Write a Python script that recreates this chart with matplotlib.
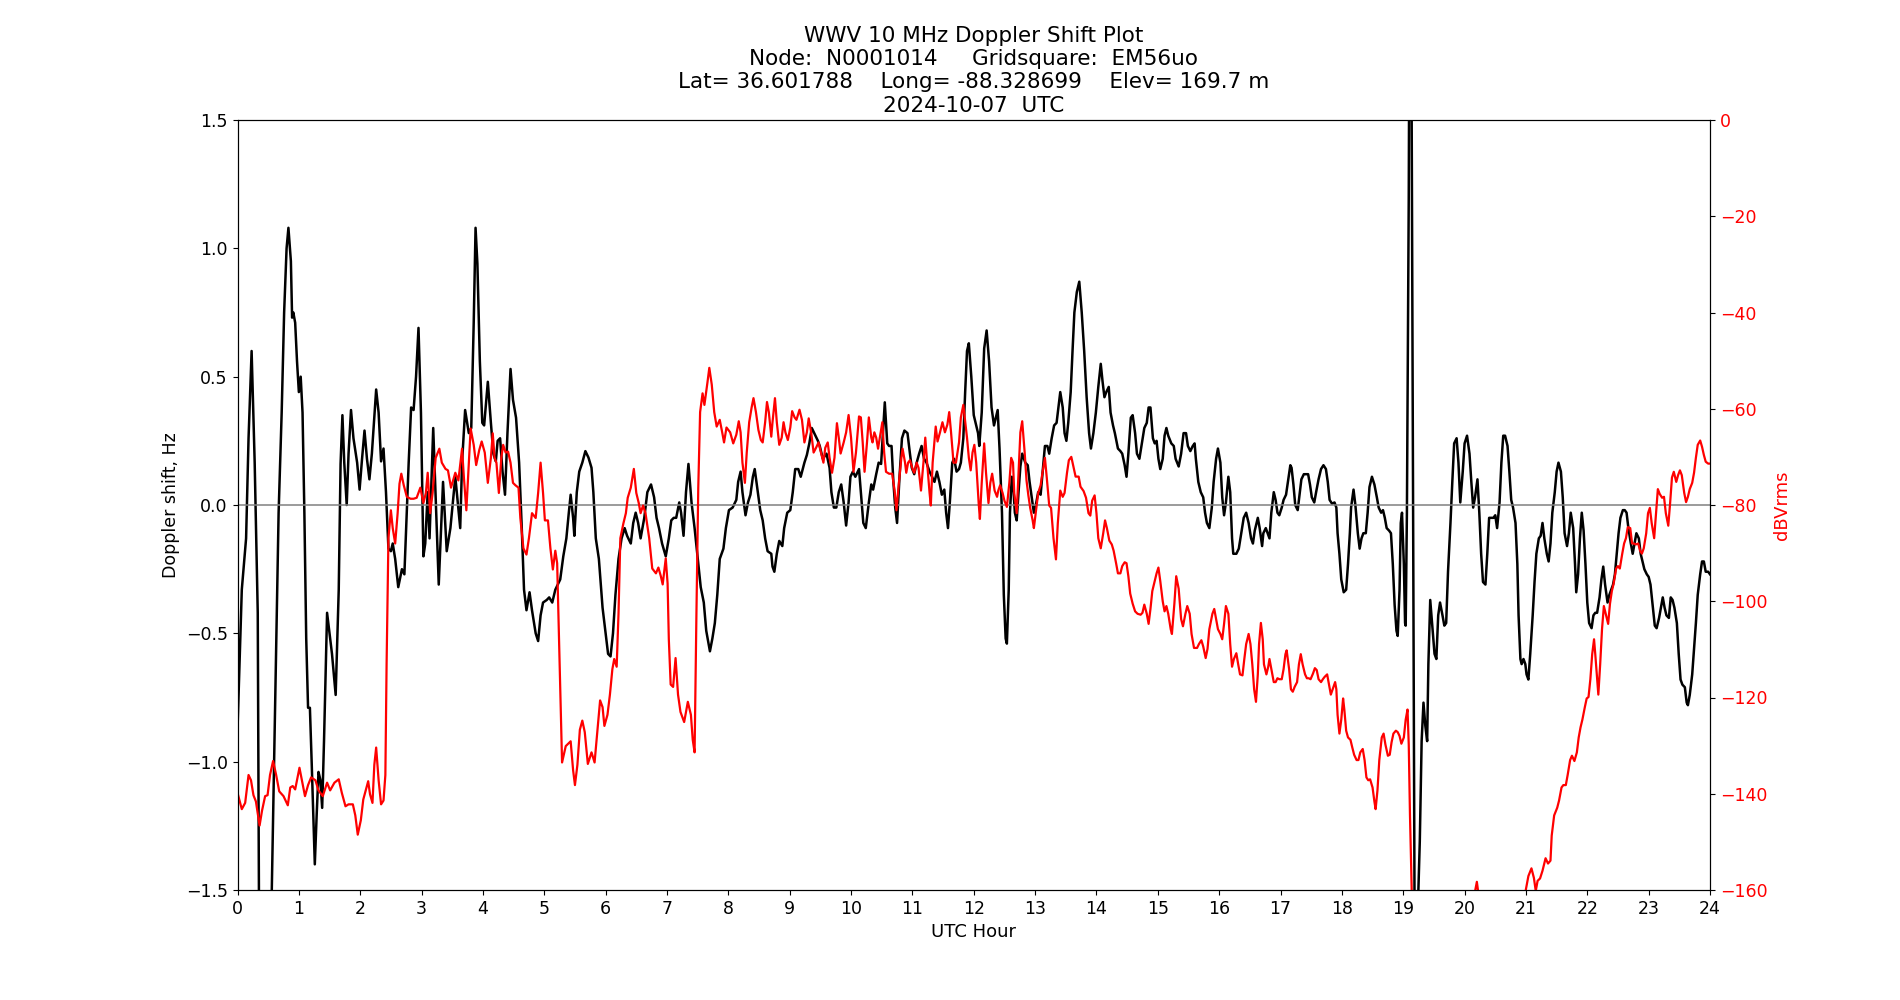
import numpy as np
import matplotlib
matplotlib.use('Agg')
import matplotlib.pyplot as plt

# Doppler shift (black), hours UTC / Hz
hours_doppler = [
    0.00, 0.07, 0.14, 0.18, 0.23, 0.28, 0.33, 0.35, 0.45, 0.555, 0.61, 0.67, 0.72, 0.76, 0.80, 0.83,
    0.87, 0.89, 0.91, 0.94, 0.97, 1.00, 1.03, 1.06, 1.09, 1.12, 1.15, 1.18, 1.21, 1.26, 1.29, 1.32,
    1.35, 1.38, 1.41, 1.46, 1.48, 1.54, 1.60, 1.65, 1.68, 1.71, 1.74, 1.78, 1.81, 1.85, 1.89, 1.95,
    1.99, 2.03, 2.07, 2.11, 2.15, 2.19, 2.26, 2.30, 2.34, 2.38, 2.42, 2.46, 2.50, 2.53, 2.57, 2.62,
    2.68, 2.72, 2.79, 2.83, 2.87, 2.91, 2.95, 2.99, 3.03, 3.06, 3.10, 3.13, 3.19, 3.28, 3.35, 3.41,
    3.47, 3.55, 3.63, 3.66, 3.71, 3.77, 3.81, 3.85, 3.88,
    3.91, 3.95, 3.99, 4.02, 4.08, 4.13, 4.17, 4.21, 4.24, 4.28, 4.32, 4.36, 4.40, 4.45, 4.49, 4.54,
    4.59, 4.63, 4.67, 4.71, 4.76, 4.80, 4.86, 4.90, 4.94, 4.98, 5.04, 5.08, 5.13, 5.18, 5.26, 5.31,
    5.36, 5.40, 5.43, 5.47, 5.49, 5.53, 5.57, 5.62, 5.67, 5.72, 5.77, 5.80, 5.84, 5.89, 5.95, 6.00,
    6.04, 6.08, 6.12, 6.16, 6.21, 6.26, 6.31, 6.35, 6.41, 6.45, 6.49, 6.53, 6.57, 6.63, 6.68, 6.74,
    6.79, 6.83, 6.87, 6.92, 6.98, 7.03, 7.07, 7.11, 7.15, 7.20, 7.23, 7.27, 7.31, 7.35, 7.40, 7.45,
    7.51, 7.55, 7.60, 7.64, 7.70, 7.74, 7.78, 7.82, 7.86, 7.92, 7.96, 8.01,
    8.07, 8.13, 8.16, 8.20, 8.23, 8.28, 8.32, 8.36, 8.40, 8.43, 8.48, 8.52, 8.56, 8.60, 8.64, 8.70,
    8.72, 8.75, 8.79, 8.83, 8.88, 8.91, 8.96, 9.01, 9.05, 9.09, 9.14, 9.18, 9.24, 9.28, 9.32, 9.36,
    9.40, 9.46, 9.49, 9.54, 9.57, 9.60, 9.65, 9.68, 9.72, 9.76, 9.80, 9.84, 9.88, 9.92, 9.96, 9.99,
    10.03, 10.07, 10.13, 10.16, 10.20, 10.24, 10.29, 10.33, 10.36, 10.41, 10.45, 10.49, 10.52, 10.55,
    10.59, 10.62, 10.66, 10.69, 10.72, 10.75, 10.79, 10.83, 10.87, 10.92, 10.96, 10.99, 11.03, 11.07,
    11.11, 11.15, 11.19, 11.23, 11.28, 11.32, 11.36, 11.40, 11.44, 11.48, 11.52, 11.55, 11.58, 11.61,
    11.65, 11.68, 11.72, 11.76, 11.79, 11.83, 11.86, 11.89, 11.92, 11.96, 12.00,
    12.03, 12.07, 12.09, 12.13, 12.17, 12.21, 12.25, 12.29, 12.33, 12.36, 12.39, 12.42, 12.46, 12.49,
    12.52, 12.54, 12.57, 12.59, 12.62, 12.65, 12.67, 12.70, 12.73, 12.76, 12.79, 12.84, 12.88, 12.91,
    12.95, 12.98, 13.02, 13.05, 13.09, 13.12, 13.16, 13.20, 13.23, 13.27, 13.31, 13.35, 13.38, 13.41,
    13.45, 13.48, 13.51, 13.54, 13.58, 13.61, 13.64, 13.68, 13.72, 13.76, 13.80, 13.84, 13.88, 13.91,
    13.95, 13.99, 14.03, 14.07, 14.10, 14.13, 14.16, 14.20, 14.23, 14.27, 14.30, 14.35, 14.39, 14.42,
    14.46, 14.49, 14.52, 14.56, 14.59, 14.63, 14.66, 14.70, 14.74, 14.78, 14.82, 14.85, 14.88, 14.92,
    14.95, 14.98, 15.01, 15.04, 15.08, 15.11, 15.14, 15.17, 15.22, 15.26, 15.29, 15.34, 15.38, 15.42,
    15.46, 15.49, 15.53, 15.57, 15.60, 15.62, 15.66, 15.70, 15.74, 15.77, 15.80, 15.84, 15.88, 15.91,
    15.95, 15.98, 16.02,
    16.05, 16.08, 16.11, 16.15, 16.18, 16.21, 16.23, 16.28, 16.32, 16.36, 16.40, 16.44, 16.48, 16.52,
    16.55, 16.58, 16.63, 16.66, 16.70, 16.72, 16.76, 16.79, 16.82, 16.85, 16.89, 16.92, 16.95, 16.98,
    17.02, 17.05, 17.09, 17.12, 17.16, 17.18, 17.21, 17.24, 17.28, 17.31, 17.34, 17.38, 17.42, 17.45,
    17.48, 17.51, 17.55, 17.58, 17.62, 17.66, 17.70, 17.74, 17.77, 17.80, 17.84, 17.88, 17.91, 17.93,
    17.96, 17.99, 18.03, 18.07, 18.10, 18.13, 18.15, 18.19, 18.22, 18.26, 18.29, 18.32, 18.35, 18.39,
    18.42, 18.45, 18.49, 18.53, 18.57, 18.60, 18.64, 18.67, 18.70, 18.73, 18.77, 18.80, 18.83, 18.86,
    18.89, 18.91, 18.94, 18.96, 18.98, 19.01, 19.03, 19.04, 19.06, 19.09, 19.115, 19.20, 19.235,
    19.27, 19.30, 19.33, 19.36, 19.39, 19.41, 19.44, 19.47, 19.51, 19.54, 19.57, 19.60, 19.64, 19.67,
    19.70, 19.73, 19.77, 19.80, 19.83, 19.87, 19.90, 19.93,
    19.97, 20.00, 20.04, 20.08, 20.11, 20.14, 20.17, 20.21, 20.24, 20.27, 20.30, 20.34, 20.37, 20.40,
    20.43, 20.47, 20.50, 20.53, 20.57, 20.60, 20.63, 20.66, 20.70, 20.73, 20.76, 20.79, 20.83, 20.86,
    20.88, 20.91, 20.93, 20.96, 20.99, 21.01, 21.04, 21.07, 21.11, 21.14, 21.17, 21.21, 21.24, 21.27,
    21.30, 21.34, 21.37, 21.40, 21.43, 21.47, 21.50, 21.53, 21.57, 21.60, 21.63, 21.67, 21.70, 21.73,
    21.77, 21.80, 21.82, 21.85, 21.88, 21.91, 21.94, 21.97, 22.00, 22.03, 22.07, 22.10, 22.13, 22.16,
    22.20, 22.23, 22.26, 22.29, 22.33, 22.36, 22.39, 22.42, 22.45, 22.48, 22.51, 22.54, 22.58, 22.61,
    22.64, 22.67, 22.71, 22.74, 22.77, 22.80, 22.84, 22.87, 22.90, 22.93, 22.97, 23.00, 23.03, 23.07,
    23.10, 23.13, 23.17, 23.20, 23.23, 23.26, 23.29, 23.33, 23.36, 23.39, 23.42, 23.46, 23.49, 23.52,
    23.55, 23.59, 23.62, 23.64, 23.67, 23.71, 23.74, 23.77, 23.80, 23.84, 23.87, 23.90, 23.93, 23.97,
    24.00,
]
doppler_hz = [
    -0.876, -0.33, -0.13, 0.26, 0.60, 0.165, -0.42, -1.55, -2.6, -1.55, -0.82, -0.03, 0.36, 0.75, 1.0, 1.08,
    0.95, 0.73, 0.75, 0.71, 0.56, 0.44, 0.50, 0.36, -0.03, -0.52, -0.79, -0.79, -1.01, -1.40, -1.21, -1.04,
    -1.07, -1.18, -0.92, -0.42, -0.46, -0.58, -0.74, -0.33, 0.16, 0.35, 0.165, 0.0, 0.20, 0.37, 0.26, 0.165,
    0.06, 0.18, 0.29, 0.18, 0.10, 0.20, 0.45, 0.36, 0.17, 0.22, 0.05, -0.17, -0.18, -0.15, -0.21, -0.32,
    -0.25, -0.27, 0.165, 0.38, 0.37, 0.50, 0.69, 0.36, -0.20, -0.15, 0.05, -0.13, 0.30, -0.31, 0.09, -0.18,
    -0.09, 0.11, -0.09, 0.165, 0.37, 0.28, 0.30, 0.71, 1.08,
    0.94, 0.56, 0.32, 0.31, 0.48, 0.32, 0.20, 0.17, 0.25, 0.26, 0.13, 0.04, 0.28, 0.53, 0.41, 0.34,
    0.165, -0.07, -0.33, -0.41, -0.34, -0.41, -0.50, -0.53, -0.43, -0.38, -0.37, -0.36, -0.38, -0.33, -0.29, -0.20,
    -0.13, -0.03, 0.04, -0.05, -0.12, 0.05, 0.13, 0.165, 0.21, 0.185, 0.145, 0.05, -0.13, -0.21, -0.40, -0.50,
    -0.58, -0.59, -0.50, -0.35, -0.21, -0.13, -0.09, -0.12, -0.15, -0.07, -0.03, -0.07, -0.13, -0.05, 0.05, 0.08,
    0.03, -0.05, -0.09, -0.15, -0.20, -0.13, -0.06, -0.05, -0.05, 0.01, -0.03, -0.12, 0.05, 0.16, 0.01, -0.09,
    -0.23, -0.32, -0.38, -0.49, -0.57, -0.52, -0.46, -0.35, -0.21, -0.17, -0.09, -0.02,
    -0.01, 0.02, 0.09, 0.13, 0.05, -0.04, 0.01, 0.04, 0.11, 0.14, 0.05, -0.02, -0.06, -0.13, -0.18, -0.19,
    -0.24, -0.26, -0.19, -0.14, -0.16, -0.09, -0.03, -0.02, 0.05, 0.14, 0.14, 0.11, 0.165, 0.195, 0.24, 0.30,
    0.28, 0.25, 0.23, 0.18, 0.19, 0.20, 0.145, 0.05, -0.01, -0.01, 0.05, 0.08, 0.01, -0.08, 0.01, 0.11,
    0.13, 0.11, 0.14, 0.05, -0.07, -0.09, 0.01, 0.08, 0.06, 0.12, 0.165, 0.16, 0.28, 0.40,
    0.24, 0.23, 0.23, 0.09, -0.01, -0.07, 0.11, 0.26, 0.29, 0.28, 0.20, 0.145, 0.12, 0.165,
    0.20, 0.23, 0.18, 0.165, 0.13, 0.11, 0.09, 0.13, 0.09, 0.04, 0.06, -0.03, -0.09, 0.01,
    0.165, 0.18, 0.13, 0.14, 0.165, 0.26, 0.44, 0.60, 0.63, 0.50, 0.35,
    0.32, 0.28, 0.23, 0.36, 0.61, 0.68, 0.56, 0.38, 0.31, 0.34, 0.37, 0.22, -0.03, -0.35,
    -0.52, -0.54, -0.33, -0.03, 0.11, 0.05, -0.03, -0.06, 0.05, 0.15, 0.20, 0.165, 0.155, 0.09,
    0.02, -0.03, 0.01, 0.05, 0.04, 0.12, 0.23, 0.23, 0.20, 0.26, 0.31, 0.32, 0.38, 0.44,
    0.38, 0.28, 0.25, 0.32, 0.44, 0.60, 0.75, 0.83, 0.87, 0.75, 0.60, 0.42, 0.28, 0.22,
    0.28, 0.36, 0.46, 0.55, 0.48, 0.42, 0.44, 0.46, 0.36, 0.31, 0.28, 0.22, 0.21, 0.20,
    0.155, 0.11, 0.20, 0.34, 0.35, 0.28, 0.20, 0.18, 0.24, 0.30, 0.32, 0.38, 0.38, 0.26,
    0.24, 0.25, 0.18, 0.14, 0.18, 0.27, 0.30, 0.27, 0.24, 0.23, 0.18, 0.15, 0.20, 0.28,
    0.28, 0.23, 0.21, 0.23, 0.24, 0.18, 0.09, 0.05, 0.03, -0.03, -0.07, -0.09, -0.01, 0.09,
    0.18, 0.22, 0.165,
    0.03, -0.04, 0.01, 0.11, 0.05, -0.13, -0.19, -0.19, -0.17, -0.11, -0.05, -0.03, -0.07, -0.13,
    -0.15, -0.10, -0.05, -0.09, -0.16, -0.11, -0.09, -0.11, -0.13, -0.03, 0.05, 0.02, -0.03, -0.04,
    -0.01, 0.02, 0.04, 0.09, 0.155, 0.145, 0.08, 0.0, -0.02, 0.04, 0.10, 0.12, 0.12, 0.12,
    0.08, 0.03, 0.01, 0.05, 0.10, 0.14, 0.155, 0.14, 0.09, 0.02, 0.005, 0.01, -0.01, -0.11,
    -0.19, -0.29, -0.34, -0.33, -0.23, -0.11, -0.01, 0.06, 0.0, -0.11, -0.17, -0.13, -0.11, -0.11,
    -0.03, 0.07, 0.11, 0.08, 0.03, -0.01, -0.03, -0.02, -0.05, -0.09, -0.10, -0.11, -0.23, -0.39,
    -0.49, -0.51, -0.33, -0.07, -0.03, -0.23, -0.46, -0.47, -0.03, 1.2, 3.0, -2.6, -1.6,
    -1.31, -0.92, -0.77, -0.86, -0.92, -0.62, -0.37, -0.46, -0.58, -0.60, -0.43, -0.38, -0.43, -0.47,
    -0.46, -0.26, -0.07, 0.09, 0.24, 0.26, 0.165, 0.01,
    0.13, 0.24, 0.27, 0.20, 0.09, -0.01, 0.03, 0.10, -0.03, -0.19, -0.30, -0.31, -0.19, -0.05,
    -0.05, -0.05, -0.04, -0.09, 0.01, 0.165, 0.27, 0.27, 0.23, 0.13, 0.02, -0.01, -0.07, -0.23,
    -0.43, -0.60, -0.62, -0.60, -0.62, -0.66, -0.68, -0.58, -0.43, -0.30, -0.19, -0.13, -0.12, -0.07,
    -0.13, -0.19, -0.22, -0.15, -0.03, 0.05, 0.13, 0.165, 0.13, 0.03, -0.11, -0.16, -0.11, -0.03,
    -0.09, -0.23, -0.34, -0.27, -0.13, -0.03, -0.10, -0.23, -0.38, -0.46, -0.48, -0.43, -0.42, -0.42,
    -0.36, -0.29, -0.24, -0.31, -0.38, -0.35, -0.33, -0.31, -0.27, -0.19, -0.11, -0.05, -0.02, -0.02,
    -0.03, -0.09, -0.15, -0.19, -0.15, -0.11, -0.13, -0.19, -0.22, -0.25, -0.27, -0.28, -0.31, -0.40,
    -0.47, -0.48, -0.44, -0.40, -0.36, -0.40, -0.43, -0.44, -0.36, -0.37, -0.40, -0.46, -0.58, -0.68,
    -0.70, -0.71, -0.77, -0.78, -0.74, -0.66, -0.56, -0.46, -0.35, -0.27, -0.22, -0.22, -0.26, -0.26,
    -0.27,
]

# Received signal level (red), hours UTC / dBVrms
hours_power = [
    0.00, 0.07, 0.125, 0.18, 0.22, 0.26, 0.30, 0.36, 0.40, 0.45, 0.49, 0.53, 0.58, 0.63, 0.68, 0.75,
    0.82, 0.86, 0.90, 0.94, 1.01, 1.05, 1.10, 1.15, 1.20, 1.27, 1.32, 1.39, 1.46, 1.51, 1.58, 1.65,
    1.70, 1.76, 1.81, 1.88, 1.92, 1.96, 2.01, 2.05, 2.09, 2.13, 2.16, 2.20, 2.23, 2.26, 2.30, 2.34,
    2.38, 2.41, 2.43, 2.46, 2.50, 2.53, 2.57, 2.61, 2.64, 2.67, 2.71, 2.76, 2.82, 2.87, 2.92, 2.98,
    3.03, 3.07, 3.10, 3.14, 3.18, 3.23, 3.29, 3.33, 3.39, 3.43, 3.48, 3.55, 3.60, 3.66, 3.69, 3.73,
    3.77, 3.80, 3.85, 3.89, 3.94, 3.98,
    4.03, 4.08, 4.13, 4.16, 4.19, 4.22, 4.26, 4.30, 4.33, 4.37, 4.41, 4.45, 4.49, 4.53, 4.58, 4.61,
    4.66, 4.71, 4.75, 4.80, 4.83, 4.86, 4.90, 4.94, 4.98, 5.01, 5.06, 5.10, 5.14, 5.18, 5.21, 5.24,
    5.27, 5.29, 5.35, 5.43, 5.47, 5.50, 5.54, 5.58, 5.62, 5.66, 5.71, 5.77, 5.82, 5.86, 5.91, 5.95,
    5.98, 6.03, 6.07, 6.11, 6.14, 6.18, 6.21, 6.24, 6.29, 6.33, 6.36, 6.41, 6.46, 6.50, 6.54, 6.57,
    6.61, 6.65, 6.71, 6.76, 6.82, 6.86, 6.90, 6.93, 6.98, 7.01, 7.03, 7.06, 7.10, 7.14, 7.18, 7.22,
    7.28, 7.34, 7.39, 7.42, 7.45, 7.48, 7.51, 7.54, 7.58, 7.61, 7.66, 7.69, 7.73, 7.77, 7.81, 7.86,
    7.90, 7.93, 7.97,
    8.03, 8.08, 8.13, 8.17, 8.20, 8.23, 8.27, 8.30, 8.34, 8.38, 8.41, 8.45, 8.49, 8.53, 8.56, 8.60,
    8.63, 8.66, 8.70, 8.72, 8.76, 8.79, 8.83, 8.87, 8.90, 8.93, 8.97, 9.01, 9.04, 9.08, 9.11, 9.16,
    9.20, 9.24, 9.28, 9.31, 9.35, 9.39, 9.43, 9.47, 9.51, 9.55, 9.58, 9.62, 9.65, 9.69, 9.73, 9.77,
    9.80, 9.83, 9.88, 9.92, 9.96, 10.00, 10.04, 10.08, 10.13, 10.16, 10.19, 10.22, 10.26, 10.29,
    10.33, 10.35, 10.38, 10.41, 10.44, 10.47, 10.51, 10.54, 10.57, 10.62, 10.67, 10.71, 10.74, 10.78,
    10.82, 10.84, 10.88, 10.90, 10.93, 10.96, 11.01, 11.03, 11.07, 11.10, 11.14, 11.18, 11.21, 11.24,
    11.28, 11.30, 11.33, 11.38, 11.41, 11.45, 11.49, 11.53, 11.57, 11.60, 11.63, 11.67, 11.71, 11.76,
    11.79, 11.83,
    11.89, 11.92, 11.95, 11.98, 12.01, 12.04, 12.08, 12.10, 12.13, 12.17, 12.20, 12.24, 12.27, 12.30,
    12.34, 12.38, 12.40, 12.43, 12.47, 12.50, 12.54, 12.58, 12.61, 12.64, 12.66, 12.70, 12.73, 12.76,
    12.79, 12.83, 12.86, 12.89, 12.92, 12.96, 12.98, 13.02, 13.05, 13.09, 13.12, 13.16, 13.19, 13.23,
    13.26, 13.30, 13.34, 13.37, 13.41, 13.45, 13.48, 13.52, 13.55, 13.59, 13.63, 13.66, 13.71, 13.74,
    13.79, 13.83, 13.87, 13.90, 13.93, 13.97, 14.00, 14.03, 14.07, 14.11, 14.14, 14.17, 14.21, 14.25,
    14.28, 14.32, 14.35, 14.39, 14.42, 14.46, 14.49, 14.52, 14.55, 14.59, 14.63, 14.67, 14.72, 14.75,
    14.78, 14.82, 14.85, 14.88, 14.91, 14.95, 14.98, 15.01, 15.04, 15.08, 15.11, 15.14, 15.17, 15.21,
    15.23, 15.27, 15.30, 15.34, 15.38, 15.41, 15.45, 15.48, 15.52, 15.55, 15.59, 15.64, 15.67, 15.71,
    15.74, 15.78, 15.81, 15.84,
    15.89, 15.92, 15.95, 15.98, 16.02, 16.05, 16.08, 16.11, 16.15, 16.18, 16.21, 16.24, 16.28, 16.31,
    16.34, 16.38, 16.41, 16.44, 16.48, 16.51, 16.54, 16.57, 16.60, 16.63, 16.65, 16.68, 16.71, 16.73,
    16.77, 16.80, 16.82, 16.85, 16.89, 16.92, 16.95, 16.98, 17.02, 17.05, 17.08, 17.10, 17.14, 17.17,
    17.20, 17.23, 17.27, 17.30, 17.33, 17.36, 17.40, 17.43, 17.46, 17.49, 17.53, 17.56, 17.59, 17.62,
    17.66, 17.69, 17.72, 17.76, 17.79, 17.82, 17.85, 17.89, 17.91, 17.93, 17.96, 17.99, 18.02, 18.04,
    18.07, 18.10, 18.14, 18.17, 18.20, 18.24, 18.27, 18.30, 18.34, 18.37, 18.40, 18.43, 18.46, 18.50,
    18.53, 18.55, 18.58, 18.61, 18.65, 18.68, 18.71, 18.75, 18.78, 18.81, 18.84, 18.88, 18.91, 18.94,
    18.97, 19.01, 19.04, 19.07, 19.09, 19.11, 19.14,
    19.30, 19.80, 20.10, 20.20, 20.27, 20.60, 20.99,
    21.04, 21.09, 21.13, 21.16, 21.19, 21.23, 21.27, 21.32, 21.36, 21.40, 21.42, 21.46, 21.51, 21.54,
    21.58, 21.61, 21.65, 21.68, 21.72, 21.75, 21.79, 21.83, 21.86, 21.89, 21.92, 21.96, 21.99, 22.02,
    22.05, 22.08, 22.11, 22.13, 22.16, 22.18, 22.21, 22.24, 22.27, 22.30, 22.34, 22.37, 22.40, 22.43,
    22.47, 22.50, 22.53, 22.57, 22.60, 22.63, 22.66, 22.70, 22.73, 22.76, 22.79, 22.83, 22.86, 22.89,
    22.92, 22.96, 22.99, 23.02, 23.05, 23.09, 23.12, 23.15, 23.18, 23.22, 23.25, 23.28, 23.32, 23.35,
    23.38, 23.41, 23.45, 23.48, 23.51, 23.54, 23.58, 23.61, 23.64, 23.67, 23.71, 23.74, 23.77, 23.80,
    23.84, 23.87, 23.90, 23.93, 23.97, 24.00,
]
power_dbv = [
    -139.8, -143.2, -141.9, -136.1, -137.2, -140.3, -141.6, -146.6, -143.5, -140.5, -140.3, -136.1, -133.2, -136.1, -139.5, -140.5,
    -142.4, -138.7, -138.4, -139.1, -134.6, -137.2, -140.5, -138.2, -136.6, -137.2, -139.3, -140.5, -137.7, -139.3, -137.7, -137.0,
    -139.8, -142.6, -142.2, -142.2, -144.5, -148.5, -145.5, -141.2, -139.3, -137.4, -140.1, -141.9, -134.0, -130.4, -137.2, -142.2,
    -141.4, -136.1, -113.1, -86.9, -81.1, -84.8, -88.0, -81.7, -75.6, -73.5, -75.9, -78.3, -78.7, -78.7, -78.5, -76.4,
    -79.6, -77.5, -73.3, -81.7, -77.5, -70.2, -68.3, -71.2, -72.5, -72.8, -76.4, -73.3, -74.9, -68.3, -74.3, -81.1,
    -71.2, -64.1, -67.5, -71.7, -68.6, -66.8,
    -69.1, -75.4, -70.2, -65.1, -70.2, -71.2, -77.5, -70.2, -67.5, -69.1, -68.9, -71.2, -75.4, -75.9, -76.4, -82.7,
    -89.0, -90.3, -86.9, -81.7, -82.2, -82.7, -77.5, -71.2, -77.5, -83.2, -83.2, -89.0, -93.4, -89.5, -92.1, -107.9,
    -123.6, -133.5, -130.1, -129.1, -135.1, -138.2, -134.0, -126.7, -124.8, -127.2, -133.8, -131.4, -133.5, -127.7, -120.6, -122.0,
    -125.9, -123.6, -119.4, -114.1, -112.0, -113.6, -102.6, -86.9, -83.8, -81.7, -78.5, -76.4, -72.5, -77.5, -79.6, -81.7,
    -80.1, -81.7, -86.9, -93.2, -94.2, -93.0, -94.8, -96.5, -91.1, -96.3, -107.9, -117.3, -117.8, -111.8, -119.4, -123.0,
    -125.1, -120.9, -123.6, -128.8, -131.4, -102.6, -76.4, -60.7, -56.8, -59.2, -54.5, -51.5, -55.0, -60.7, -63.7, -62.3,
    -64.9, -67.0, -63.9,
    -64.9, -67.2, -65.4, -62.6, -64.9, -71.2, -75.4, -69.1, -62.8, -59.7, -57.8, -60.7, -64.4, -66.5, -67.0, -62.8,
    -58.6, -60.7, -65.8, -62.8, -57.8, -62.8, -67.5, -66.0, -62.8, -64.9, -66.5, -63.9, -60.5, -61.8, -62.3, -60.2,
    -62.3, -67.0, -64.9, -62.0, -64.9, -69.1, -68.1, -67.0, -69.1, -71.2, -68.1, -67.0, -70.2, -73.3, -70.2, -63.0,
    -66.0, -69.3, -67.0, -64.9, -61.3, -66.0, -73.1, -69.1, -61.6, -61.8, -67.0, -73.1, -67.0, -61.8,
    -66.0, -67.0, -64.9, -66.0, -68.3, -66.0, -62.8, -69.1, -73.1, -73.5, -73.5, -77.0, -81.1, -75.4,
    -70.2, -68.3, -71.2, -73.3, -71.2, -70.7, -72.8, -73.3, -71.2, -72.3, -77.0, -71.2, -66.0, -71.2,
    -77.5, -80.1, -71.2, -63.7, -66.8, -64.9, -62.8, -64.9, -63.3, -60.7, -64.9, -71.2, -71.2, -67.0,
    -61.8, -59.2,
    -66.0, -70.2, -72.8, -69.1, -67.5, -71.2, -79.6, -82.9, -75.4, -67.2, -73.3, -79.6, -75.4, -73.5,
    -77.0, -78.3, -77.0, -75.9, -77.5, -79.1, -80.4, -75.4, -70.2, -71.2, -77.5, -81.7, -73.3, -64.9,
    -62.6, -69.1, -74.9, -78.0, -80.6, -83.2, -84.8, -80.6, -77.5, -75.9, -73.3, -70.2, -74.3, -80.1,
    -80.6, -86.9, -91.3, -83.8, -77.0, -78.3, -77.5, -73.3, -70.7, -70.0, -72.3, -74.1, -74.1, -76.2,
    -77.1, -78.5, -81.7, -82.2, -79.1, -78.0, -81.7, -86.9, -89.0, -85.9, -83.2, -84.8, -87.4, -88.2,
    -89.5, -92.1, -94.2, -94.2, -92.7, -91.9, -92.1, -94.8, -98.4, -100.5, -102.1, -102.6, -102.8, -102.4,
    -100.7, -102.6, -104.7, -101.6, -97.9, -95.8, -94.2, -93.0, -95.8, -100.0, -102.1, -101.0, -102.6, -105.8,
    -106.8, -100.5, -94.8, -97.4, -103.7, -105.2, -102.6, -101.0, -102.6, -106.8, -109.7, -109.7, -108.9, -108.1,
    -109.4, -111.8, -109.9, -105.8,
    -102.6, -101.6, -103.7, -105.8, -106.8, -107.9, -104.7, -101.0, -102.6, -108.9, -113.6, -112.0, -110.8, -113.1,
    -115.2, -115.4, -112.0, -108.9, -106.8, -108.9, -113.1, -118.3, -120.9, -115.2, -108.9, -104.5, -107.9, -113.1,
    -115.2, -113.6, -112.0, -114.1, -116.8, -116.8, -116.0, -116.2, -116.2, -114.1, -111.0, -110.2, -114.1, -118.3,
    -118.8, -117.8, -116.8, -113.1, -111.0, -113.1, -115.2, -116.0, -116.0, -116.2, -115.0, -113.9, -114.3, -116.2,
    -116.8, -116.2, -115.7, -115.2, -117.3, -119.4, -118.3, -116.8, -118.3, -123.6, -127.5, -124.6, -120.2, -122.5,
    -126.9, -128.3, -128.8, -130.4, -131.9, -133.0, -133.0, -131.4, -130.7, -133.0, -136.6, -137.2, -137.0, -138.7,
    -141.6, -143.2, -139.3, -133.0, -128.3, -127.5, -129.8, -132.1, -131.9, -129.3, -127.5, -126.9, -127.2, -128.0,
    -129.6, -128.3, -124.6, -122.5, -129.8, -144.5, -161.0,
    -175.0, -172.0, -165.0, -158.3, -165.0, -175.0, -160.5,
    -157.1, -155.5, -157.5, -160.2, -158.1, -157.6, -156.0, -153.4, -154.5, -153.9, -148.7, -144.5, -142.9, -141.4,
    -138.7, -138.2, -138.2, -136.1, -133.0, -132.1, -133.2, -131.4, -128.3, -126.2, -124.6, -122.0, -120.2, -119.9,
    -116.2, -111.0, -107.9, -111.0, -116.2, -119.4, -113.1, -105.8, -101.0, -102.6, -104.7, -100.5, -97.9, -96.3,
    -93.2, -92.7, -93.2, -90.1, -88.0, -86.9, -84.6, -84.8, -88.0, -88.0, -88.2, -88.0, -89.5, -90.1,
    -89.0, -85.9, -81.7, -80.6, -83.8, -86.9, -81.7, -76.7, -77.7, -78.5, -78.3, -81.7, -84.3, -79.6,
    -74.3, -73.1, -75.2, -73.8, -72.8, -73.8, -77.5, -79.4, -78.3, -76.7, -75.4, -73.3, -70.2, -67.5,
    -66.6, -67.9, -69.6, -71.0, -71.4, -71.4,
]

title_lines = [
    'WWV 10 MHz Doppler Shift Plot',
    'Node:  N0001014     Gridsquare:  EM56uo',
    'Lat= 36.601788    Long= -88.328699    Elev= 169.7 m',
    '2024-10-07  UTC',
]

fig, ax = plt.subplots(figsize=(19, 10), dpi=100)

ax.plot(hours_doppler, doppler_hz, color='black', linewidth=1.8)
ax.axhline(0, color='grey', linewidth=1.1)
ax.set_xlim(0, 24)
ax.set_ylim(-1.5, 1.5)
ax.set_xticks(range(0, 25))
ax.set_xlabel('UTC Hour', fontsize=13)
ax.set_ylabel('Doppler shift, Hz', fontsize=12.5)
ax.tick_params(labelsize=12.5)
ax.set_title('\n'.join(title_lines), fontsize=15.5)

ax2 = ax.twinx()
ax2.plot(hours_power, power_dbv, color='red', linewidth=1.6)
ax2.set_ylim(-160, 0)
ax2.set_ylabel('dBVrms', color='red', fontsize=13)
ax2.tick_params(axis='y', labelcolor='red', labelsize=12.5)

plt.savefig('out.png')
